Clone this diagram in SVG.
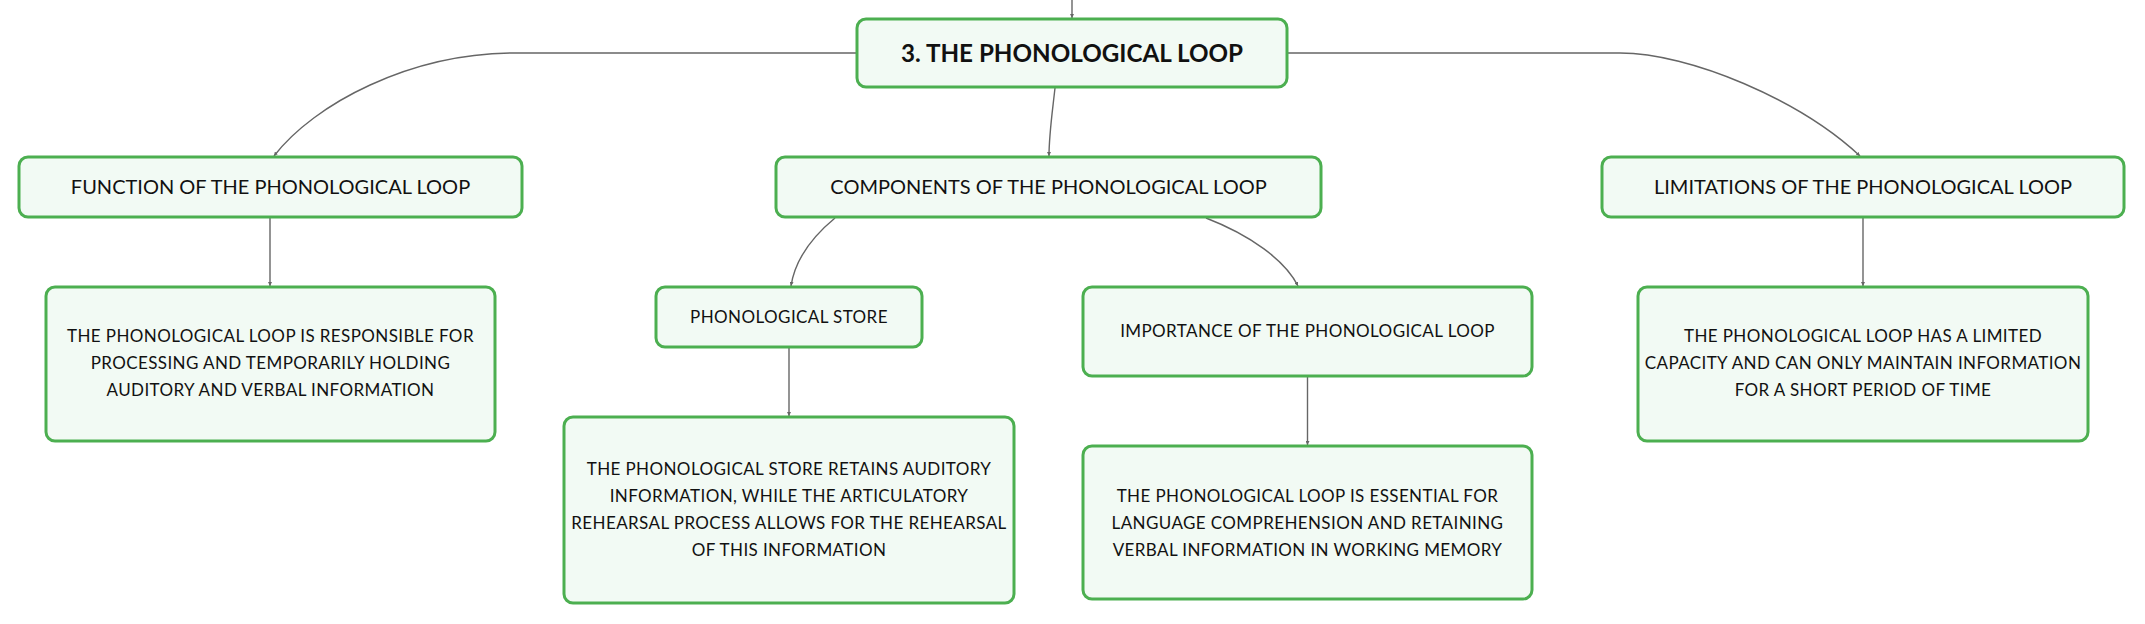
<svg xmlns="http://www.w3.org/2000/svg" width="2145" height="624" viewBox="0 0 2145 624">
<style>
.box{fill:#f2faf4;stroke:#4caf50;stroke-width:3}
.t{font-family:Lato,"Noto Sans","Liberation Sans",sans-serif;fill:#111;text-anchor:middle}
.root{font-size:24.2px;font-weight:700}
.l1{font-size:20px}
.l2{font-size:17px;letter-spacing:0.4px}
.c{fill:none;stroke:#666;stroke-width:1.4}
</style>
<defs>
<marker id="a" viewBox="0 0 4 4" refX="4" refY="2" markerWidth="4" markerHeight="4" markerUnits="userSpaceOnUse" orient="auto"><path d="M0,0 L4,2 L0,4 Z" fill="#666"/></marker>
</defs>
<g id="connectors">
<path class="c" d="M1072 0 L1072 18" marker-end="url(#a)"/>
<path class="c" d="M857 53 L515 53 C410 53 314 104 274 156" marker-end="url(#a)"/>
<path class="c" d="M1287 53 L1620 53 C1690 53 1800 100 1860 156" marker-end="url(#a)"/>
<path class="c" d="M1055 88 C1052 115 1049 135 1049 156" marker-end="url(#a)"/>
<path class="c" d="M270 218 L270 286" marker-end="url(#a)"/>
<path class="c" d="M835 218 C812 237 795 260 791 286" marker-end="url(#a)"/>
<path class="c" d="M1206 218 C1250 235 1285 260 1298 286" marker-end="url(#a)"/>
<path class="c" d="M789 348 L789 416" marker-end="url(#a)"/>
<path class="c" d="M1307.5 377 L1307.5 445" marker-end="url(#a)"/>
<path class="c" d="M1863 218 L1863 286" marker-end="url(#a)"/>
</g>
<g id="root">
<rect class="box" x="857" y="19" width="430" height="68" rx="9"/>
<text class="t root" x="1072" y="62">3. THE PHONOLOGICAL LOOP</text>
</g>
<g id="function">
<rect class="box" x="19" y="157" width="503" height="60" rx="9"/>
<text class="t l1" x="270.5" y="194">FUNCTION OF THE PHONOLOGICAL LOOP</text>
</g>
<g id="components">
<rect class="box" x="776" y="157" width="545" height="60" rx="9"/>
<text class="t l1" x="1048.5" y="194">COMPONENTS OF THE PHONOLOGICAL LOOP</text>
</g>
<g id="limitations">
<rect class="box" x="1602" y="157" width="522" height="60" rx="9"/>
<text class="t l1" x="1863" y="194">LIMITATIONS OF THE PHONOLOGICAL LOOP</text>
</g>
<g id="function-detail">
<rect class="box" x="46" y="287" width="449" height="154" rx="9"/>
<text class="t l2" x="270.5" y="342">THE PHONOLOGICAL LOOP IS RESPONSIBLE FOR</text>
<text class="t l2" x="270.5" y="369">PROCESSING AND TEMPORARILY HOLDING</text>
<text class="t l2" x="270.5" y="396">AUDITORY AND VERBAL INFORMATION</text>
</g>
<g id="store">
<rect class="box" x="656" y="287" width="266" height="60" rx="9"/>
<text class="t l2" x="789" y="323">PHONOLOGICAL STORE</text>
</g>
<g id="store-detail">
<rect class="box" x="564" y="417" width="450" height="186" rx="9"/>
<text class="t l2" x="789" y="475">THE PHONOLOGICAL STORE RETAINS AUDITORY</text>
<text class="t l2" x="789" y="502">INFORMATION, WHILE THE ARTICULATORY</text>
<text class="t l2" x="789" y="529">REHEARSAL PROCESS ALLOWS FOR THE REHEARSAL</text>
<text class="t l2" x="789" y="556">OF THIS INFORMATION</text>
</g>
<g id="importance">
<rect class="box" x="1083" y="287" width="449" height="89" rx="9"/>
<text class="t l2" x="1307.5" y="337">IMPORTANCE OF THE PHONOLOGICAL LOOP</text>
</g>
<g id="importance-detail">
<rect class="box" x="1083" y="446" width="449" height="153" rx="9"/>
<text class="t l2" x="1307.5" y="502">THE PHONOLOGICAL LOOP IS ESSENTIAL FOR</text>
<text class="t l2" x="1307.5" y="529">LANGUAGE COMPREHENSION AND RETAINING</text>
<text class="t l2" x="1307.5" y="556">VERBAL INFORMATION IN WORKING MEMORY</text>
</g>
<g id="limitations-detail">
<rect class="box" x="1638" y="287" width="450" height="154" rx="9"/>
<text class="t l2" x="1863" y="342">THE PHONOLOGICAL LOOP HAS A LIMITED</text>
<text class="t l2" x="1863" y="369">CAPACITY AND CAN ONLY MAINTAIN INFORMATION</text>
<text class="t l2" x="1863" y="396">FOR A SHORT PERIOD OF TIME</text>
</g>
</svg>
